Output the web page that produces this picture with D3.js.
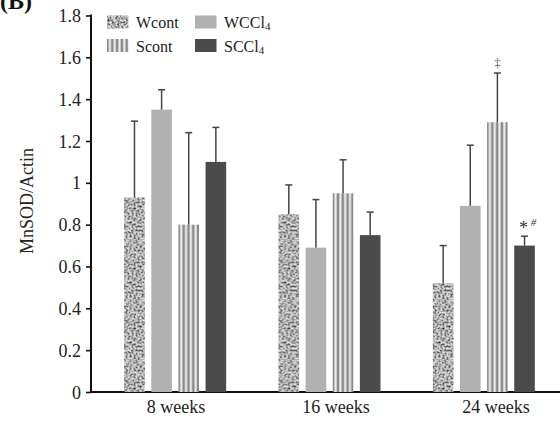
<!DOCTYPE html>
<html><head><meta charset="utf-8">
<script src="https://cdn.jsdelivr.net/npm/d3@7"></script>
<style>body{margin:0;background:#fff}svg{display:block}</style>
</head><body>
<script>
const groups = ["8 weeks", "16 weeks", "24 weeks"];
const series = ["Wcont", "WCCl4", "Scont", "SCCl4"];
const means = {
  Wcont: [0.93, 0.85, 0.52],
  WCCl4: [1.35, 0.69, 0.89],
  Scont: [0.80, 0.95, 1.29],
  SCCl4: [1.10, 0.75, 0.70]
};
const errTop = {
  Wcont: [1.295, 0.99, 0.70],
  WCCl4: [1.445, 0.92, 1.18],
  Scont: [1.24, 1.11, 1.525],
  SCCl4: [1.265, 0.86, 0.745]
};
const yTicks = [0, 0.2, 0.4, 0.6, 0.8, 1, 1.2, 1.4, 1.6, 1.8];

const FONT = "'Liberation Serif','Times New Roman','DejaVu Serif',serif";
const W = 560, H = 421;
const svg = d3.select("body").append("svg").attr("width", W).attr("height", H)
  .style("font-family", FONT);
const defs = svg.append("defs");

// granite-like texture for Wcont
const f = defs.append("filter").attr("id","noise").attr("x",0).attr("y",0).attr("width","100%").attr("height","100%");
f.append("feTurbulence").attr("type","fractalNoise").attr("baseFrequency","0.5").attr("numOctaves",2).attr("seed",3).attr("result","t");
f.append("feColorMatrix").attr("in","t").attr("type","matrix")
 .attr("values","0 0 0 0 0  0 0 0 0 0  0 0 0 0 0  0 0 0 -2.4 1.45");
const pn = defs.append("pattern").attr("id","pWcont").attr("patternUnits","userSpaceOnUse").attr("width",60).attr("height",60);
pn.append("rect").attr("width",60).attr("height",60).attr("fill","#dcdcdc");
pn.append("rect").attr("width",60).attr("height",60).attr("fill","#333").attr("filter","url(#noise)").attr("opacity",0.8);

// stripes for Scont
const ps = defs.append("pattern").attr("id","pScont").attr("patternUnits","userSpaceOnUse").attr("width",4.8).attr("height",10);
ps.append("rect").attr("width",4.8).attr("height",10).attr("fill","#f0f0f0");
ps.append("rect").attr("x",0.6).attr("width",2.6).attr("height",10).attr("fill","#8a8a8a");

const fills = {Wcont:"url(#pWcont)", WCCl4:"#b1b1b1", Scont:"url(#pScont)", SCCl4:"#4b4b4b"};
const labels = {Wcont:"Wcont", WCCl4:"WCCl", Scont:"Scont", SCCl4:"SCCl"};

const x0 = d3.scaleBand().domain(groups).range([95, 558]);
const x1 = d3.scaleBand().domain(series).range([-48, 54]).paddingInner(0.24);
const xl = d3.scaleBand().domain(groups).range([96, 576]);
const y = d3.scaleLinear().domain([0, 1.8]).range([392, 15.5]);

// y axis
const ya = svg.append("g").attr("transform","translate(91,0)")
 .call(d3.axisLeft(y).tickValues(yTicks).tickSize(5).tickPadding(5).tickFormat(d => String(+d.toFixed(1))));
ya.attr("font-family", null);
ya.select(".domain").attr("stroke","#111").attr("stroke-width",2).attr("d","M0,14.5V393");
ya.selectAll(".tick line").attr("stroke","#111").attr("stroke-width",1.6);
ya.selectAll(".tick text").attr("font-size",18).attr("fill","#222").attr("dy","0.34em");

// x axis line
const xa = svg.append("g").attr("transform","translate(0,392)")
 .call(d3.axisBottom(xl).tickSize(0).tickPadding(8));
xa.attr("font-family", null);
xa.select(".domain").attr("stroke","#111").attr("stroke-width",2).attr("d","M90,0H560");
xa.selectAll(".tick text").attr("font-size",18).attr("fill","#222");

// bars
const gG = svg.append("g").selectAll("g").data(groups).join("g")
 .attr("transform", d => `translate(${x0(d) + x0.bandwidth()/2},0)`);
series.forEach(s => {
  gG.each(function(g, i) {
    const sel = d3.select(this);
    const bx = x1(s), bw = x1.bandwidth();
    sel.append("rect").attr("x", bx).attr("width", bw)
      .attr("y", y(means[s][i])).attr("height", y(0) - y(means[s][i])).attr("fill", fills[s]);
    const cx = bx + bw/2;
    sel.append("line").attr("x1",cx).attr("x2",cx).attr("y1",y(means[s][i])).attr("y2",y(errTop[s][i]))
      .attr("stroke","#444").attr("stroke-width",1.5);
    sel.append("line").attr("x1",cx-3.5).attr("x2",cx+3.5).attr("y1",y(errTop[s][i])).attr("y2",y(errTop[s][i]))
      .attr("stroke","#444").attr("stroke-width",1.5);
  });
});

// annotations
const g3 = x0("24 weeks") + x0.bandwidth()/2;
svg.append("text").attr("x", g3 + x1("Scont") + x1.bandwidth()/2).attr("y", y(errTop.Scont[2]) - 6)
  .attr("text-anchor","middle").attr("font-size",12).attr("fill","#555").text("‡");
svg.append("text").attr("x", g3 + x1("SCCl4") + x1.bandwidth()/2 - 1).attr("y", y(errTop.SCCl4[2]) - 2)
  .attr("text-anchor","middle").attr("font-size",18).attr("fill","#333").text("*");
svg.append("text").attr("x", g3 + x1("SCCl4") + x1.bandwidth()/2 + 9).attr("y", y(errTop.SCCl4[2]) - 10)
  .attr("text-anchor","middle").attr("font-size",11).attr("font-style","italic").attr("fill","#333").text("#");

// legend
const leg = [["Wcont",107,15.5],["Scont",107,39],["WCCl4",195,15.5],["SCCl4",195,39]];
leg.forEach(([s,lx,ly]) => {
  svg.append("rect").attr("x",lx).attr("y",ly).attr("width",21.5).attr("height",13).attr("fill",fills[s]);
  const t = svg.append("text").attr("x",lx+29).attr("y",ly+12.5).attr("font-size",16).attr("fill","#222").text(labels[s]);
  if (s.endsWith("CCl4")) t.append("tspan").attr("font-size",11).attr("dy",2).text("4");
});

// y title
svg.append("text").attr("transform","translate(33,201) rotate(-90)").attr("text-anchor","middle")
  .attr("font-size",18).attr("fill","#222").text("MnSOD/Actin");
// panel label
svg.append("text").attr("x",0).attr("y",9).attr("font-size",24).attr("font-weight","bold").attr("fill","#111").text("(B)");
</script>
</body></html>
